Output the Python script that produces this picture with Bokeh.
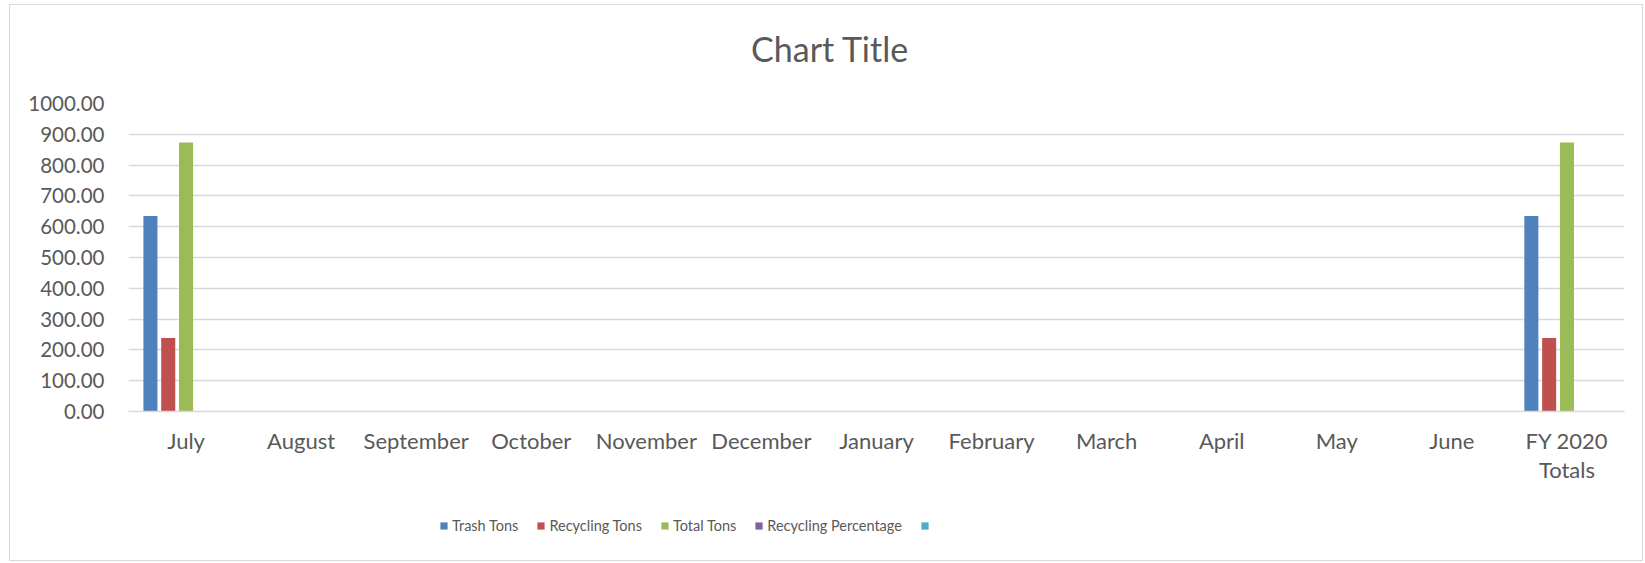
from bokeh.plotting import figure
from bokeh.layouts import column
from bokeh.models import (FactorRange, Range1d, Legend, LegendItem, Label,
                          NumeralTickFormatter, FixedTicker)
from bokeh.transform import dodge
from bokeh.core.properties import value
from bokeh.embed import file_html
from bokeh.resources import INLINE

categories = ["July", "August", "September", "October", "November", "December",
              "January", "February", "March", "April", "May", "June", "FY 2020\nTotals"]
trash_tons = [634.6, 0, 0, 0, 0, 0, 0, 0, 0, 0, 0, 0, 634.6]
recycling_tons = [238.9, 0, 0, 0, 0, 0, 0, 0, 0, 0, 0, 0, 238.9]
total_tons = [873.5, 0, 0, 0, 0, 0, 0, 0, 0, 0, 0, 0, 873.5]
recycling_pct = [0.27, 0, 0, 0, 0, 0, 0, 0, 0, 0, 0, 0, 0.27]
blank_series = [0] * 13
series_names = ["Trash Tons", "Recycling Tons", "Total Tons", "Recycling Percentage", ""]
y_ticks = [0, 100, 200, 300, 400, 500, 600, 700, 800, 900, 1000]
chart_title = "Chart Title"

colors = ["#4F81BD", "#C0504D", "#9BBB59", "#8064A2", "#4BACC6"]
TXT = "#595959"
FONT = "Lato"

data = dict(cat=categories, s0=trash_tons, s1=recycling_tons, s2=total_tons,
            s3=recycling_pct, s4=blank_series)

# title strip
pt = figure(width=1632, height=70, output_backend="svg", toolbar_location=None,
            x_range=Range1d(0, 1), y_range=Range1d(0, 1),
            x_axis_type=None, y_axis_type=None, min_border=0)
pt.outline_line_color = None
pt.xgrid.grid_line_color = None
pt.ygrid.grid_line_color = None
pt.add_layout(Label(x=0.469, y=0.383, text=chart_title, text_align="center",
                    text_baseline="middle", text_font=FONT,
                    text_font_size="34px", text_color=TXT))

p = figure(x_range=FactorRange(*categories, range_padding=0),
           y_range=Range1d(0, 1000),
           width=1632, height=415, output_backend="svg", toolbar_location=None,
           min_border_left=118, min_border_right=18, min_border_top=28,
           min_border_bottom=79)
p.outline_line_color = None
p.background_fill_color = "white"

step = 0.1547
for i in range(5):
    p.vbar(x=dodge("cat", (i - 2) * step, range=p.x_range), top="s%d" % i,
           width=0.122, source=data, fill_color=colors[i], line_color=None)

p.xgrid.grid_line_color = None
p.ygrid.grid_line_color = "#d9d9d9"
p.ygrid.grid_line_width = 1.5
p.yaxis.ticker = FixedTicker(ticks=y_ticks)
p.yaxis.formatter = NumeralTickFormatter(format="0.00")
p.yaxis.axis_line_color = None
p.yaxis.major_tick_line_color = None
p.yaxis.minor_tick_line_color = None
p.yaxis.major_tick_out = 0
p.yaxis.major_label_standoff = 24
p.yaxis.major_label_text_font = FONT
p.yaxis.major_label_text_font_size = "20.5px"
p.yaxis.major_label_text_color = TXT

p.xaxis.axis_line_color = "#d9d9d9"
p.xaxis.axis_line_width = 1.5
p.xaxis.major_tick_line_color = None
p.xaxis.major_tick_out = 0
p.xaxis.major_label_standoff = 15
p.xaxis.major_label_text_font = FONT
p.xaxis.major_label_text_font_size = "22px"
p.xaxis.major_label_text_line_height = 1.1
p.xaxis.major_label_text_color = TXT
p.xaxis.major_label_orientation = "horizontal"

# legend strip (separate figure so the legend is not clipped by the plot frame)
pl = figure(width=1632, height=70, output_backend="svg", toolbar_location=None,
            x_range=Range1d(0, 1), y_range=Range1d(0, 1),
            x_axis_type=None, y_axis_type=None, min_border=0)
pl.outline_line_color = None
pl.xgrid.grid_line_color = None
pl.ygrid.grid_line_color = None
leg_renderers = [pl.vbar(x=[-5], top=[0], width=0.1, fill_color=colors[i], line_color=None)
                 for i in range(5)]
items = [LegendItem(label=value(series_names[i] if series_names[i] else " "),
                    renderers=[leg_renderers[i]]) for i in range(5)]
legend = Legend(items=items, orientation="horizontal", location=(311, 25),
                glyph_width=9, glyph_height=9, label_standoff=4, spacing=18,
                padding=0, margin=0, border_line_color=None,
                background_fill_alpha=0, label_text_font=FONT,
                label_text_font_size="14.5px", label_text_color=TXT,
                label_height=20)
pl.add_layout(legend)

layout = column(pt, p, pl, spacing=0,
                styles={"border": "1px solid #d9d9d9", "margin-left": "9px",
                        "margin-top": "4px"})

open("out.html", "w").write(file_html(layout, INLINE))
